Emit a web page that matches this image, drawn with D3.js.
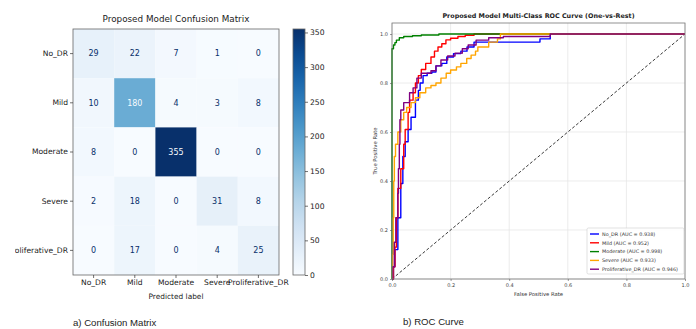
<!DOCTYPE html>
<html>
<head>
<meta charset="utf-8">
<script src="https://cdn.jsdelivr.net/npm/d3@7"></script>
<style>
  html, body { margin: 0; padding: 0; background: #fff; }
  svg { display: block; }
</style>
</head>
<body>
<svg id="chart" width="696" height="329"></svg>
<script>
// confusion matrix data
const classes = ['No_DR', 'Mild', 'Moderate', 'Severe', 'Proliferative_DR'];
const matrix = [
  [29, 22, 7, 1, 0],
  [10, 180, 4, 3, 8],
  [8, 0, 355, 0, 0],
  [2, 18, 0, 31, 8],
  [0, 17, 0, 4, 25],
];
const colorbarTicks = [0, 50, 100, 150, 200, 250, 300, 350];

// roc data
const rocTicks = [0, 0.2, 0.4, 0.6, 0.8, 1.0];
const aucValues = [0.938, 0.952, 0.998, 0.933, 0.946];
const rocColors = ['blue', 'red', 'green', 'orange', 'purple'];

const noDrFpr = [0, 0.005, 0.01, 0.02, 0.03, 0.037, 0.045, 0.055, 0.065, 0.08, 0.09, 0.096, 0.106, 0.12, 0.136, 0.15, 0.17, 0.187, 0.21, 0.235, 0.256, 0.28, 0.505, 0.54, 1];
const noDrTpr = [0, 0.05, 0.12, 0.25, 0.39, 0.5, 0.56, 0.61, 0.66, 0.73, 0.77, 0.8, 0.83, 0.84, 0.845, 0.87, 0.88, 0.906, 0.92, 0.93, 0.947, 0.967, 0.98, 1, 1];

const mildFpr = [0, 0.005, 0.01, 0.015, 0.02, 0.03, 0.04, 0.045, 0.055, 0.06, 0.072, 0.08, 0.09, 0.1, 0.115, 0.133, 0.145, 0.157, 0.17, 0.184, 0.2, 0.225, 0.25, 0.28, 1];
const mildTpr = [0, 0.05, 0.13, 0.25, 0.37, 0.45, 0.55, 0.61, 0.68, 0.73, 0.76, 0.8, 0.83, 0.855, 0.88, 0.906, 0.93, 0.947, 0.96, 0.976, 0.983, 0.99, 0.995, 1, 1];

const moderateFpr = [0, 0, 0.005, 0.01, 0.015, 0.025, 0.04, 0.07, 0.1, 0.16, 1];
const moderateTpr = [0, 0.94, 0.955, 0.965, 0.975, 0.985, 0.99, 0.993, 0.996, 1, 1];

const severeFpr = [0, 0.002, 0.004, 0.006, 0.008, 0.012, 0.02, 0.03, 0.04, 0.05, 0.065, 0.08, 0.095, 0.115, 0.133, 0.15, 0.167, 0.185, 0.2, 0.22, 0.235, 0.255, 0.27, 0.285, 0.293, 0.33, 0.36, 0.37, 1];
const severeTpr = [0, 0.1, 0.25, 0.4, 0.5, 0.55, 0.6, 0.65, 0.68, 0.7, 0.72, 0.74, 0.76, 0.78, 0.79, 0.8, 0.82, 0.84, 0.853, 0.866, 0.88, 0.9, 0.914, 0.93, 0.947, 0.967, 0.98, 1, 1];

const prolifFpr = [0, 0.003, 0.008, 0.013, 0.02, 0.022, 0.025, 0.027, 0.03, 0.04, 0.055, 0.06, 0.072, 0.085, 0.1, 0.133, 0.15, 0.167, 0.19, 0.215, 0.24, 0.26, 0.287, 0.33, 0.38, 0.54, 1];
const prolifTpr = [0, 0.05, 0.15, 0.25, 0.35, 0.45, 0.55, 0.65, 0.69, 0.72, 0.72, 0.76, 0.78, 0.82, 0.84, 0.85, 0.87, 0.894, 0.91, 0.922, 0.94, 0.955, 0.975, 0.985, 0.99, 1, 1];

const rocSeries = [
  { fpr: noDrFpr, tpr: noDrTpr },
  { fpr: mildFpr, tpr: mildTpr },
  { fpr: moderateFpr, tpr: moderateTpr },
  { fpr: severeFpr, tpr: severeTpr },
  { fpr: prolifFpr, tpr: prolifTpr },
];

const svg = d3.select('#chart');
const mplFont = '"DejaVu Sans", sans-serif';

// ---------- a) confusion matrix ----------
const cm = { left: 73, right: 279, top: 29, bottom: 275 };

const cx = d3.scaleBand().domain(classes).range([cm.left, cm.right]);
const cy = d3.scaleBand().domain(classes).range([cm.top, cm.bottom]);
const vmax = d3.max(matrix.flat());
const color = d3.scaleSequential(d3.interpolateBlues).domain([0, vmax]);

const cells = [];
matrix.forEach((row, i) => row.forEach((v, j) => cells.push({ t: classes[i], p: classes[j], v })));

const cmG = svg.append('g');

cmG.selectAll('rect.cell')
  .data(cells)
  .enter()
  .append('rect')
  .attr('class', 'cell')
  .attr('x', d => cx(d.p))
  .attr('y', d => cy(d.t))
  .attr('width', cx.bandwidth())
  .attr('height', cy.bandwidth())
  .attr('fill', d => color(d.v));

cmG.selectAll('text.val')
  .data(cells)
  .enter()
  .append('text')
  .attr('class', 'val')
  .attr('x', d => cx(d.p) + cx.bandwidth() / 2)
  .attr('y', d => cy(d.t) + cy.bandwidth() / 2)
  .attr('dy', '0.35em')
  .attr('text-anchor', 'middle')
  .attr('font-family', mplFont)
  .attr('font-size', 8)
  .attr('fill', d => d.v > vmax / 2 ? '#f7fbff' : '#08306b')
  .text(d => d.v);

cmG.append('rect')
  .attr('x', cm.left).attr('y', cm.top)
  .attr('width', cm.right - cm.left).attr('height', cm.bottom - cm.top)
  .attr('fill', 'none').attr('stroke', '#666').attr('stroke-width', 0.8);

// clip the y labels the way the source image is cropped
svg.append('clipPath').attr('id', 'leftClip')
  .append('rect').attr('x', 15).attr('y', 0).attr('width', 400).attr('height', 329);

const xAx = cmG.append('g')
  .attr('transform', `translate(0,${cm.bottom})`)
  .call(d3.axisBottom(cx).tickSize(3).tickPadding(2));
const yAx = cmG.append('g')
  .attr('clip-path', 'url(#leftClip)')
  .append('g')
  .attr('transform', `translate(${cm.left},0)`)
  .call(d3.axisLeft(cy).tickSize(3).tickPadding(2));
[xAx, yAx].forEach(ax => {
  ax.select('.domain').remove();
  ax.selectAll('line').attr('stroke', '#333').attr('stroke-width', 0.7);
  ax.selectAll('text').attr('font-family', mplFont).attr('font-size', 7.6).attr('fill', '#222');
});

cmG.append('text')
  .attr('x', (cm.left + cm.right) / 2).attr('y', 299)
  .attr('text-anchor', 'middle')
  .attr('font-family', mplFont).attr('font-size', 7.4).attr('fill', '#222')
  .text('Predicted label');

cmG.append('text')
  .attr('x', (cm.left + cm.right) / 2).attr('y', 22)
  .attr('text-anchor', 'middle')
  .attr('font-family', mplFont).attr('font-size', 8.8).attr('fill', '#222')
  .text('Proposed Model Confusion Matrix');

// colorbar
const cb = { x: 293, w: 12 };
const cbScale = d3.scaleLinear().domain([0, vmax]).range([cm.bottom, cm.top]);
const grad = svg.append('defs').append('linearGradient')
  .attr('id', 'blues').attr('x1', 0).attr('y1', 1).attr('x2', 0).attr('y2', 0);
d3.range(0, 1.0001, 0.1).forEach(t => {
  grad.append('stop').attr('offset', t).attr('stop-color', d3.interpolateBlues(t));
});
svg.append('rect')
  .attr('x', cb.x).attr('y', cm.top)
  .attr('width', cb.w).attr('height', cm.bottom - cm.top)
  .attr('fill', 'url(#blues)')
  .attr('stroke', '#666').attr('stroke-width', 0.8);
const cbAx = svg.append('g')
  .attr('transform', `translate(${cb.x + cb.w},0)`)
  .call(d3.axisRight(cbScale).tickValues(colorbarTicks).tickSize(3).tickPadding(2));
cbAx.select('.domain').remove();
cbAx.selectAll('line').attr('stroke', '#333').attr('stroke-width', 0.7);
cbAx.selectAll('text').attr('font-family', mplFont).attr('font-size', 7.6).attr('fill', '#222');

svg.append('text')
  .attr('x', 73).attr('y', 326)
  .attr('font-family', '"Liberation Sans", Arial, sans-serif').attr('font-size', 9.6).attr('fill', '#222')
  .text('a) Confusion Matrix');

// ---------- b) ROC curve ----------
const roc = { left: 392, right: 685, top: 23, bottom: 279 };
const x = d3.scaleLinear().domain([0, 1]).range([roc.left, roc.right]);
const y = d3.scaleLinear().domain([0, 1.045]).range([roc.bottom, roc.top]);

const rocG = svg.append('g');

rocG.append('g').selectAll('line.gx')
  .data(rocTicks)
  .enter()
  .append('line')
  .attr('x1', d => x(d)).attr('x2', d => x(d))
  .attr('y1', roc.top).attr('y2', roc.bottom)
  .attr('stroke', '#e4e4e4').attr('stroke-width', 0.7);
rocG.append('g').selectAll('line.gy')
  .data(rocTicks)
  .enter()
  .append('line')
  .attr('x1', roc.left).attr('x2', roc.right)
  .attr('y1', d => y(d)).attr('y2', d => y(d))
  .attr('stroke', '#e4e4e4').attr('stroke-width', 0.7);

rocG.append('path')
  .datum([0, 1])
  .attr('fill', 'none')
  .attr('stroke', '#222')
  .attr('stroke-width', 0.9)
  .attr('stroke-dasharray', '3,2')
  .attr('d', d3.line().x(d => x(d)).y(d => y(d)));

const rocLine = d3.line()
  .x(d => x(d[0]))
  .y(d => y(d[1]))
  .curve(d3.curveStepAfter);

rocG.selectAll('path.roc')
  .data(rocSeries)
  .enter()
  .append('path')
  .attr('class', 'roc')
  .attr('fill', 'none')
  .attr('stroke', (d, i) => rocColors[i])
  .attr('stroke-width', 1.4)
  .attr('stroke-linejoin', 'round')
  .attr('d', d => rocLine(d.fpr.map((f, k) => [f, d.tpr[k]])));

rocG.append('rect')
  .attr('x', roc.left).attr('y', roc.top)
  .attr('width', roc.right - roc.left).attr('height', roc.bottom - roc.top)
  .attr('fill', 'none').attr('stroke', '#777').attr('stroke-width', 0.8);

const rxAx = rocG.append('g')
  .attr('transform', `translate(0,${roc.bottom})`)
  .call(d3.axisBottom(x).tickValues(rocTicks).tickFormat(d3.format('.1f')).tickSize(2).tickPadding(2));
const ryAx = rocG.append('g')
  .attr('transform', `translate(${roc.left},0)`)
  .call(d3.axisLeft(y).tickValues(rocTicks).tickFormat(d3.format('.1f')).tickSize(2).tickPadding(2));
[rxAx, ryAx].forEach(ax => {
  ax.select('.domain').remove();
  ax.selectAll('line').attr('stroke', '#555').attr('stroke-width', 0.6);
  ax.selectAll('text').attr('font-family', mplFont).attr('font-size', 5).attr('fill', '#444');
});

rocG.append('text')
  .attr('x', (roc.left + roc.right) / 2).attr('y', 296)
  .attr('text-anchor', 'middle')
  .attr('font-family', mplFont).attr('font-size', 5.3).attr('fill', '#333')
  .text('False Positive Rate');
rocG.append('text')
  .attr('transform', `translate(377,${(roc.top + roc.bottom) / 2}) rotate(-90)`)
  .attr('text-anchor', 'middle')
  .attr('font-family', mplFont).attr('font-size', 5.3).attr('fill', '#333')
  .text('True Positive Rate');
rocG.append('text')
  .attr('x', (roc.left + roc.right) / 2).attr('y', 18)
  .attr('text-anchor', 'middle')
  .attr('font-family', mplFont).attr('font-size', 6.4).attr('font-weight', 'bold').attr('fill', '#222')
  .text('Proposed Model Multi-Class ROC Curve (One-vs-Rest)');

// legend
const lg = rocG.append('g').attr('transform', 'translate(587,228)');
lg.append('rect')
  .attr('width', 97).attr('height', 46).attr('rx', 1.5)
  .attr('fill', '#fff').attr('fill-opacity', 0.85)
  .attr('stroke', '#ccc').attr('stroke-width', 0.6);
const items = lg.selectAll('g.item')
  .data(classes)
  .enter()
  .append('g')
  .attr('transform', (d, i) => `translate(0,${6 + i * 8.8})`);
items.append('line')
  .attr('x1', 3).attr('x2', 12)
  .attr('stroke', (d, i) => rocColors[i]).attr('stroke-width', 1.4);
items.append('text')
  .attr('x', 15).attr('dy', '0.35em')
  .attr('font-family', mplFont).attr('font-size', 4.9).attr('fill', '#333')
  .text((d, i) => `${d} (AUC = ${aucValues[i].toFixed(3)})`);

svg.append('text')
  .attr('x', 403).attr('y', 325)
  .attr('font-family', '"Liberation Sans", Arial, sans-serif').attr('font-size', 9.6).attr('fill', '#222')
  .text('b) ROC Curve');
</script>
</body>
</html>
